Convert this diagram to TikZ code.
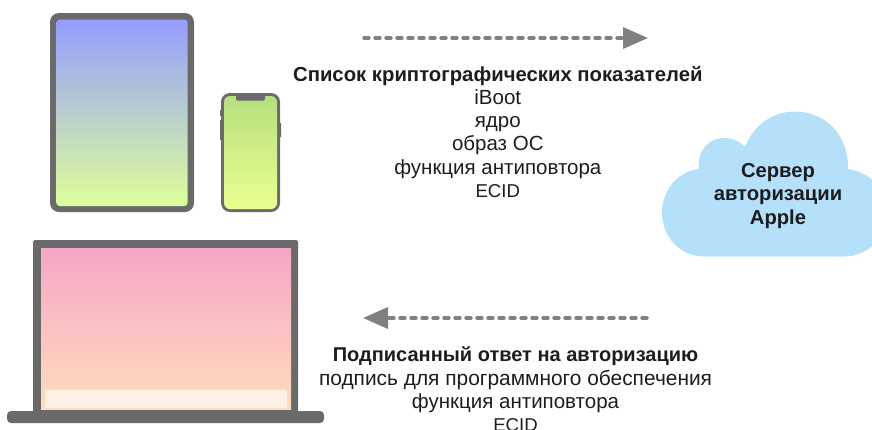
\documentclass[tikz,border=0pt]{standalone}
\usepackage{fontspec}
\setmainfont{Liberation Sans}
\usetikzlibrary{arrows.meta}
\definecolor{frameg}{HTML}{6A6A6A}
\definecolor{arrowg}{HTML}{808080}
\definecolor{inkc}{HTML}{1D1D1F}
\definecolor{cloudb}{HTML}{B5E0FA}
\definecolor{padtop}{HTML}{959DFF}
\definecolor{padbot}{HTML}{DDFF99}
\definecolor{phonetop}{HTML}{B5E07E}
\definecolor{phonebot}{HTML}{EBFF90}
\definecolor{mactop}{HTML}{F6A6C6}
\definecolor{macbot}{HTML}{FEDDBC}
\definecolor{macstrip}{HTML}{FEF0E3}
\tikzset{
  x=1pt,y=-1pt,
  caption/.style={align=center,text=inkc,font=\fontsize{20.5}{23.3}\selectfont,inner sep=0pt},
  cloudtext/.style={align=center,text=inkc,font=\fontsize{20.2}{23.2}\selectfont\bfseries,inner sep=0pt},
  flow/.style={draw=arrowg,line width=3.4pt,line cap=round,dash pattern=on 5pt off 6pt,-{Triangle[length=25pt,width=21pt,fill=arrowg]}},
  screen/.style={rounded corners=#1},
  bezel/.style={fill=frameg,rounded corners=#1},
}
\newcommand{\headA}[2]{{\fontsize{#1}{23.3}\selectfont\bfseries #2}}
\newcommand{\sizedA}[2]{{\fontsize{#1}{23.3}\selectfont #2}}
\begin{document}
\begin{tikzpicture}
\useasboundingbox (0,0) rectangle (872,429);
% iPad
\fill[bezel=9pt] (50,13) rectangle (194,212);
\shade[screen=3pt,top color=padtop,bottom color=padbot] (56.5,19.5) rectangle (187.5,206);
% iPhone
\fill[frameg] (220,110) rectangle (222,116) (220,120) rectangle (222,140) (279,123) rectangle (281,137);
\fill[bezel=9pt] (221,93) rectangle (280,212);
\shade[screen=6pt,top color=phonetop,bottom color=phonebot] (224,96) rectangle (277,209);
\fill[frameg,rounded corners=1.5pt] (236,94) rectangle (265,100.5);
% MacBook
\fill[bezel=1.5pt] (33,240) rectangle (298,412);
\shade[top color=mactop,bottom color=macbot] (41,248) rectangle (291,409);
\fill[macstrip] (45,390) rectangle (287,408);
\fill[frameg,rounded corners=4pt] (7,411) rectangle (324,423);
% Cloud
\begin{scope}
\clip (0,0) rectangle (872,429);
\fill[cloudb] (704,256.5)
  .. controls (680,256.5) and (662,237) .. (662,212.5)
  .. controls (662,189) and (679,171) .. (699,169)
  .. controls (697,150) and (709,138) .. (724,138)
  .. controls (732,138) and (740,141) .. (745,147)
  .. controls (753,126) and (772,111.5) .. (795,111.5)
  .. controls (826,111.5) and (849,136) .. (848,169)
  .. controls (870,172) and (888,190) .. (888,212)
  .. controls (888,237) and (868,256.5) .. (844,256.5)
  -- cycle;
\end{scope}
\node[cloudtext] (server) at (778,196) {Сервер\\авторизации\\Apple};
% Captions
\node[caption,anchor=north] (req) at (497.8,65.7) {\headA{20.3}{Список криптографических показателей}\\iBoot\\ядро\\образ ОС\\функция антиповтора\\\sizedA{18.6}{ECID}};
\node[caption,anchor=north] (resp) at (515.5,346.7) {\headA{20}{Подписанный ответ на авторизацию}\\\sizedA{20.9}{подпись для программного обеспечения}\\функция антиповтора\\\sizedA{18.6}{ECID}};
% Arrows
\coordinate (a1) at (364,38);
\coordinate (a2) at (648,38);
\coordinate (b1) at (647,318);
\coordinate (b2) at (363,318);
\draw[flow] (a1) -- (a2);
\draw[flow] (b1) -- (b2);
\end{tikzpicture}
\end{document}
